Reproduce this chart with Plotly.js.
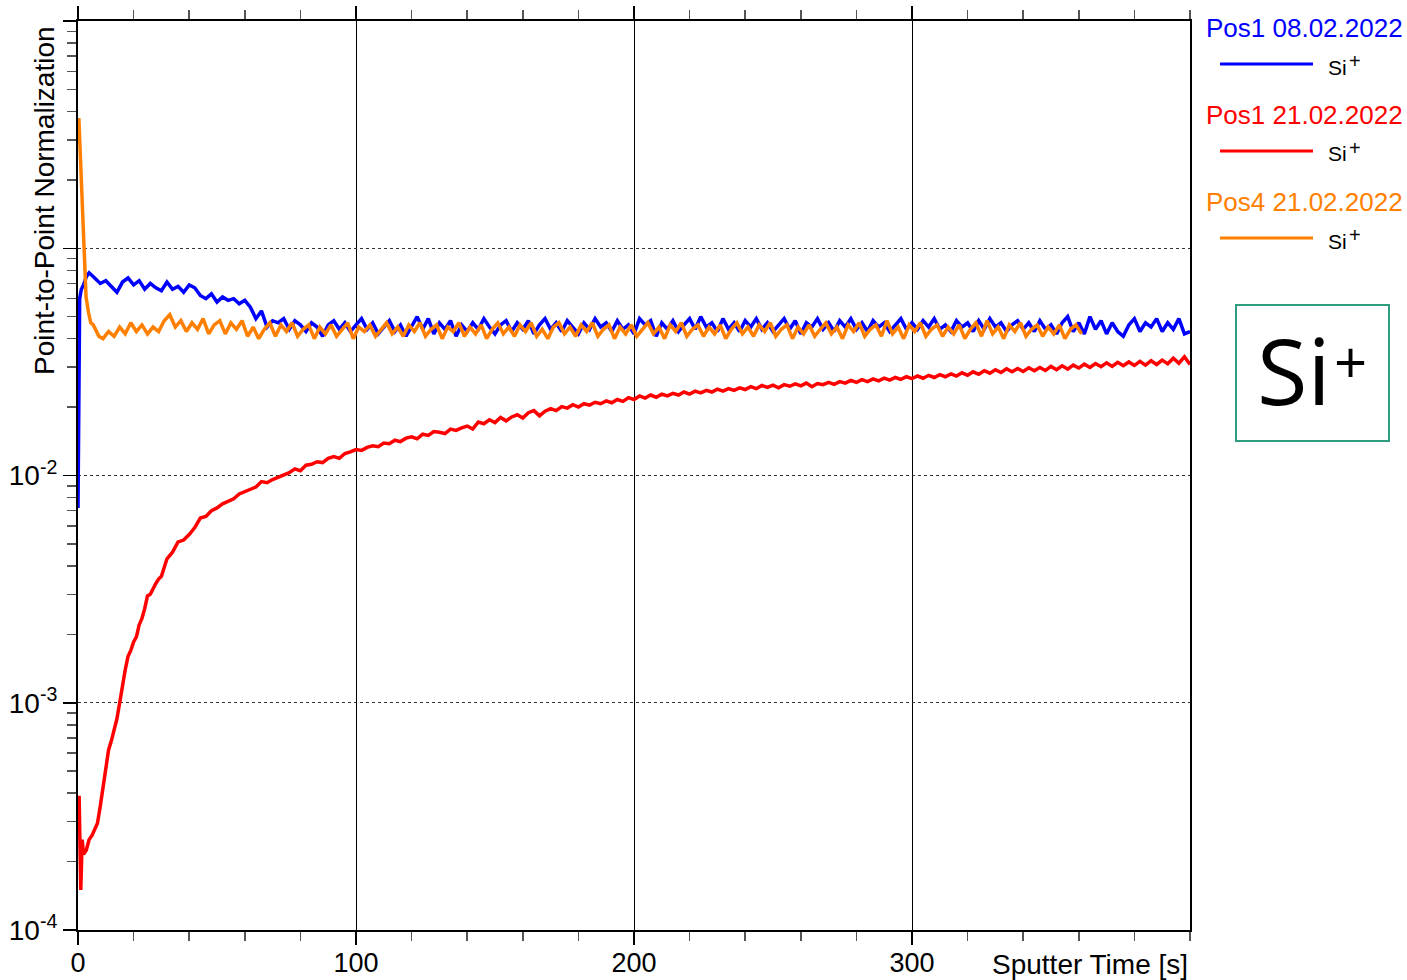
<!DOCTYPE html>
<html>
<head>
<meta charset="utf-8">
<script src="https://cdn.plot.ly/plotly-3.0.1.min.js"></script>
<style>html,body{margin:0;padding:0;background:#fff;}#chart{width:1407px;height:980px;}</style>
</head>
<body>
<div id="chart"></div>
<script>
// ---- Data ----
const seriesNames = ["Pos1 08.02.2022", "Pos1 21.02.2022", "Pos4 21.02.2022"];
const ionBase = "Si";
const ionCharge = "+";
const xTickVals = [0, 100, 200, 300];
const xTickText = ["0", "100", "200", "300"];
const yTickVals = [1e-4, 1e-3, 1e-2, 1e-1, 1];
const yTickText = ["10<sup>-4</sup>", "10<sup>-3</sup>", "10<sup>-2</sup>", "", ""];
const bodyStep = 2; // sampling interval of the listed body values [s]

// Blue: Pos1 08.02.2022
const blueHeadT = [0, 0.6, 1.2, 2, 3, 4];
const blueHeadV = [0.0072, 0.060, 0.066, 0.069, 0.075, 0.078];
const blueBodyStart = 6;
const blueBodyV = [
0.074,0.070,0.072,0.068,0.064,0.071,0.074,0.069,0.072,0.066,
0.070,0.067,0.065,0.071,0.066,0.068,0.064,0.069,0.067,0.062,
0.060,0.063,0.058,0.061,0.059,0.060,0.057,0.059,0.055,0.049,
0.053,0.045,0.048,
0.047,0.049,0.044,0.048,0.046,0.043,0.047,0.045,0.041,0.046,
0.048,0.044,0.047,0.043,0.046,0.049,0.044,0.047,0.042,0.045,
0.048,0.043,0.046,0.041,0.045,0.050,0.044,0.049,0.042,0.047,
0.044,0.048,0.041,0.046,0.043,0.047,0.044,0.049,0.045,0.042,
0.046,0.048,0.043,0.047,0.044,0.048,0.042,0.046,0.049,0.044,
0.047,0.043,0.048,0.045,0.042,0.047,0.044,0.049,0.045,0.047,
0.043,0.048,0.044,0.046,0.042,0.049,0.046,0.048,0.041,0.047,
0.044,0.048,0.043,0.046,0.049,0.044,0.050,0.045,0.047,0.043,
0.049,0.044,0.047,0.043,0.048,0.045,0.049,0.044,0.047,0.043,
0.046,0.049,0.044,0.048,0.042,0.047,0.045,0.049,0.044,0.047,
0.043,0.048,0.045,0.049,0.044,0.047,0.043,0.048,0.045,0.047,
0.043,0.046,0.049,0.044,0.047,0.044,0.048,0.045,0.049,0.044,
0.046,0.043,0.048,0.045,0.047,0.043,0.048,0.044,0.049,0.045,
0.047,0.043,0.046,0.048,0.044,0.047,0.043,0.048,0.044,0.046,
0.042,0.047,0.050,0.043,0.047,0.042,0.050,0.044,0.048,0.042,
0.047,0.043,0.041,0.046,0.049,0.043,0.047,0.045,0.049,0.043,
0.047,0.044,0.049,0.042,0.043
];

// Red: Pos1 21.02.2022
const redHeadT = [0.4, 1.0, 1.5, 2, 3, 4, 5, 6, 7, 8, 9, 10, 11, 12, 13, 14, 15, 16, 17, 18, 19, 20, 21, 22, 23, 24, 25, 26, 27, 28, 29, 30];
const redHeadV = [0.00039, 0.00015, 0.00025, 0.000215, 0.000225, 0.00025, 0.00026, 0.000275, 0.000295, 0.00035,
  0.00043, 0.00052, 0.00062, 0.00068, 0.00076, 0.00085, 0.0010, 0.0012, 0.0014, 0.0016,
  0.0017, 0.00185, 0.00195, 0.0022, 0.00235, 0.0026, 0.00295, 0.0030, 0.0032, 0.00335, 0.0035, 0.0036];
const redBodyStart = 32;
const redBodyV = [
0.0043,0.0046,0.0051,0.0052,0.0055,0.0059,0.0065,0.0066,0.0070,0.0072,
0.0075,0.0077,0.0079,0.0083,0.0085,0.0087,0.0089,0.0094,0.0093,0.0096,
0.0098,0.0101,0.0103,0.0107,0.0105,0.0111,0.0112,0.0115,0.0114,0.0119,
0.0121,0.0119,0.0125,0.0127,0.0130,0.0129,0.0133,0.0135,0.0134,0.0139,
0.0138,0.0143,0.0141,0.0146,0.0148,0.0145,0.0152,0.0150,0.0156,0.0155,
0.0153,0.0160,0.0158,0.0162,0.0165,0.0160,0.0172,0.0169,0.0176,0.0171,
0.0180,0.0174,0.0181,0.0185,0.0179,0.0189,0.0193,0.0183,0.0192,0.0197,
0.0193,0.0201,0.0198,0.0205,0.0200,0.0207,0.0204,0.0210,0.0207,0.0213,
0.0209,0.0216,0.0212,0.0220,0.0216,0.0224,0.0219,0.0226,0.0221,0.0228,
0.0224,0.0230,0.0226,0.0233,0.0228,0.0235,0.0231,0.0237,0.0233,0.0240,
0.0235,0.0241,0.0237,0.0243,0.0239,0.0246,0.0241,0.0249,0.0244,0.0250,
0.0243,0.0251,0.0247,0.0253,0.0248,0.0255,0.0246,0.0254,0.0251,0.0257,
0.0252,0.0259,0.0255,0.0262,0.0257,0.0264,0.0259,0.0266,0.0261,0.0268,
0.0263,0.0270,0.0265,0.0272,0.0267,0.0274,0.0268,0.0276,0.0270,0.0278,
0.0272,0.0280,0.0274,0.0283,0.0276,0.0286,0.0279,0.0289,0.0282,0.0292,
0.0284,0.0295,0.0286,0.0296,0.0287,0.0298,0.0289,0.0299,0.0290,0.0302,
0.0292,0.0304,0.0294,0.0306,0.0297,0.0309,0.0299,0.0311,0.0301,0.0313,
0.0302,0.0315,0.0304,0.0316,0.0305,0.0318,0.0306,0.0320,0.0308,0.0322,
0.0310,0.0328,0.0312,0.0333,0.0308
];

// Orange: Pos4 21.02.2022
const orangeHeadT = [0.3, 1.1, 2, 2.9, 3.8, 4.6, 5.5, 6.5, 7.5];
const orangeHeadV = [0.374, 0.20, 0.098, 0.061, 0.052, 0.047, 0.046, 0.043, 0.041];
const orangeBodyStart = 9;
const orangeBodyV = [
0.040,0.043,0.041,0.045,0.042,0.047,0.043,0.046,0.042,0.045,
0.043,0.048,0.051,0.045,0.048,0.043,0.047,0.044,0.049,0.042,
0.046,0.048,0.042,0.047,0.044,0.048,0.041,0.045,0.040,0.044,
0.047,0.041,0.046,0.043,0.047,0.041,0.044,0.046,0.040,0.045,
0.042,0.046,0.041,0.044,0.047,0.040,0.045,0.043,0.046,0.041,
0.044,0.047,0.042,0.045,0.041,0.046,0.043,0.047,0.041,0.044,
0.046,0.040,0.045,0.043,0.047,0.041,0.045,0.042,0.046,0.040,
0.044,0.047,0.042,0.045,0.041,0.046,0.043,0.047,0.041,0.044,
0.040,0.045,0.047,0.042,0.045,0.041,0.046,0.043,0.047,0.041,
0.044,0.046,0.040,0.045,0.042,0.046,0.041,0.044,0.047,0.042,
0.045,0.040,0.046,0.043,0.047,0.041,0.044,0.046,0.041,0.045,
0.042,0.046,0.040,0.044,0.047,0.042,0.045,0.041,0.046,0.043,
0.047,0.041,0.044,0.046,0.040,0.045,0.042,0.046,0.041,0.044,
0.047,0.042,0.045,0.040,0.046,0.043,0.047,0.041,0.044,0.046,
0.041,0.048,0.042,0.045,0.040,0.046,0.043,0.047,0.041,0.044,
0.046,0.041,0.045,0.042,0.046,0.040,0.044,0.047,0.041,0.048,
0.042,0.045,0.040,0.046,0.043,0.047,0.041,0.044,0.046,0.041,
0.045,0.042,0.046,0.040,0.044,0.046,0.042
];

// ---- Build ----
function bodyTimes(start, vals) { return vals.map((_, i) => start + i * bodyStep); }
const blueT = blueHeadT.concat(bodyTimes(blueBodyStart, blueBodyV));
const blueV = blueHeadV.concat(blueBodyV);
const redT = redHeadT.concat(bodyTimes(redBodyStart, redBodyV));
const redV = redHeadV.concat(redBodyV);
const orangeT = orangeHeadT.concat(bodyTimes(orangeBodyStart, orangeBodyV));
const orangeV = orangeHeadV.concat(orangeBodyV);

const colors = ["#0000ff", "#ff0000", "#ff8000"];
const FONT = '"Liberation Sans", Arial, sans-serif';
const BIGFONT = '"Open Sans", "Noto Sans", sans-serif';

const traces = [
  {x: blueT, y: blueV, mode: "lines", line: {color: colors[0], width: 3.5}, name: seriesNames[0]},
  {x: redT, y: redV, mode: "lines", line: {color: colors[1], width: 3.5}, name: seriesNames[1]},
  {x: orangeT, y: orangeV, mode: "lines", line: {color: colors[2], width: 3.5}, name: seriesNames[2]}
];

const minorY = [];
for (let e = -4; e < 0; e++) for (let m = 2; m <= 9; m++) minorY.push(m * Math.pow(10, e));

const plotL = 78, plotR = 1190, plotT = 21, plotB = 930;
const W = 1407, H = 980;
const px = x => (x - plotL) / (plotR - plotL);
const py = y => (plotB - y) / (plotB - plotT);

const annotations = [];
const shapes = [];
const headerY = [28, 115, 202];
const lineY = [64, 151, 238];
function txt(x, y, text, size, color, family, xa) {
  return {xref: "paper", yref: "paper", x: px(x), y: py(y), xanchor: xa || "left", yanchor: "middle",
    text: text, showarrow: false, font: {family: family || FONT, size: size, color: color || "#000"}};
}
for (let i = 0; i < 3; i++) {
  annotations.push(txt(1204, headerY[i], seriesNames[i], 26, colors[i]));
  shapes.push({type: "line", xref: "paper", yref: "paper", x0: px(1220), x1: px(1313), y0: py(lineY[i]), y1: py(lineY[i]),
    line: {color: colors[i], width: 3}});
  annotations.push(txt(1326, lineY[i] + 3, ionBase, 21));
  annotations.push(txt(1347, lineY[i] - 3, ionCharge, 20));
}
// Element box
shapes.push({type: "rect", xref: "paper", yref: "paper", x0: px(1236), x1: px(1389), y0: py(305), y1: py(441),
  line: {color: "#2f9e80", width: 2}, fillcolor: "rgba(0,0,0,0)"});
annotations.push(txt(1255, 369, ionBase, 92, "#000", BIGFONT));
annotations.push(txt(1332, 361, ionCharge, 58, "#000", BIGFONT));
// Axis titles
annotations.push({xref: "paper", yref: "paper", x: 1, y: 0, xanchor: "right", yanchor: "middle", yshift: -34,
  text: "Sputter Time [s]", showarrow: false, font: {family: FONT, size: 28, color: "#000"}});
annotations.push({xref: "paper", yref: "paper", x: px(45), y: py(201), xanchor: "center", yanchor: "middle", textangle: -90,
  text: "Point-to-Point Normalization", showarrow: false, font: {family: FONT, size: 28, color: "#000"}});

const layout = {
  width: W, height: H,
  margin: {l: plotL, r: W - plotR, t: plotT, b: H - plotB, pad: 0},
  paper_bgcolor: "#fff", plot_bgcolor: "#fff",
  showlegend: false,
  font: {family: FONT, color: "#000"},
  xaxis: {
    range: [0, 400], tickmode: "array", tickvals: xTickVals, ticktext: xTickText,
    ticks: "outside", ticklen: 13, tickwidth: 1.5, tickcolor: "#000", ticklabelstandoff: -5,
    showline: true, linecolor: "#000", linewidth: 2, mirror: "ticks",
    showgrid: true, gridcolor: "#000", gridwidth: 1, zeroline: false,
    tickfont: {family: FONT, size: 27, color: "#000"},
    minor: {tickmode: "linear", tick0: 0, dtick: 20, ticks: "outside", ticklen: 9, tickwidth: 1.5, tickcolor: "#555", showgrid: false}
  },
  yaxis: {
    type: "log", range: [-4, 0], tickmode: "array", tickvals: yTickVals, ticktext: yTickText,
    ticks: "outside", ticklen: 13, tickwidth: 1.5, tickcolor: "#000",
    showline: true, linecolor: "#000", linewidth: 2, mirror: true,
    showgrid: true, gridcolor: "#333", gridwidth: 1, griddash: "dot", zeroline: false,
    tickfont: {family: FONT, size: 28, color: "#000"},
    minor: {tickmode: "array", tickvals: minorY, ticks: "outside", ticklen: 9, tickwidth: 1.5, tickcolor: "#555", showgrid: false}
  },
  shapes: shapes,
  annotations: annotations
};

Plotly.newPlot("chart", traces, layout, {staticPlot: true, displayModeBar: false});
</script>
</body>
</html>
